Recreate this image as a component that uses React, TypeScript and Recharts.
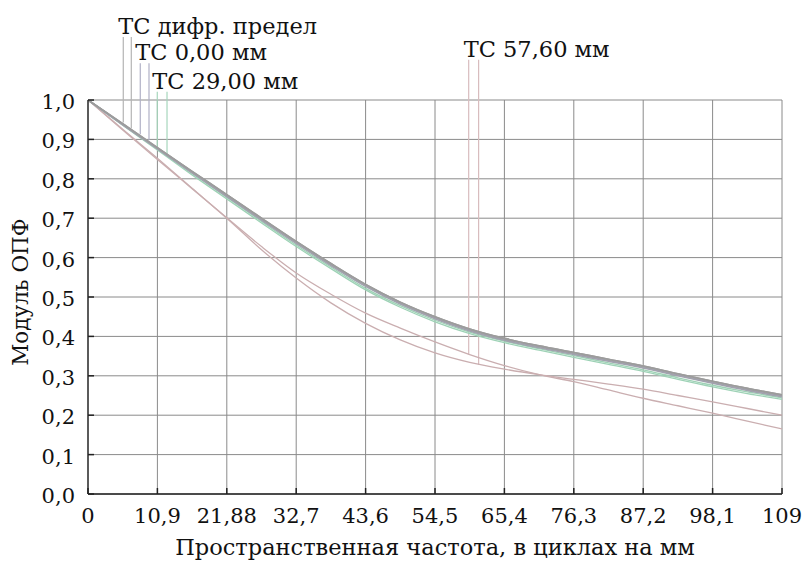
import React from 'react';
import { LineChart, Line, XAxis, YAxis, CartesianGrid, ReferenceLine } from 'recharts';

const freq = [0, 5.45, 10.9, 16.35, 21.8, 27.25, 32.7, 38.15, 43.6, 49.05, 54.5, 59.95, 65.4, 70.85, 76.3, 81.75, 87.2, 92.65, 98.1, 103.55, 109];
const diffT = [1.0, 0.94, 0.879, 0.819, 0.76, 0.7, 0.641, 0.585, 0.532, 0.487, 0.45, 0.419, 0.395, 0.376, 0.359, 0.342, 0.325, 0.305, 0.286, 0.268, 0.252];
const diffS = [1.0, 0.94, 0.879, 0.819, 0.76, 0.7, 0.641, 0.585, 0.532, 0.487, 0.45, 0.419, 0.395, 0.376, 0.359, 0.342, 0.325, 0.305, 0.286, 0.268, 0.252];
const tc0T = [1.0, 0.938, 0.877, 0.816, 0.757, 0.697, 0.638, 0.582, 0.529, 0.484, 0.447, 0.416, 0.392, 0.373, 0.356, 0.339, 0.322, 0.302, 0.283, 0.265, 0.249];
const tc0S = [1.0, 0.937, 0.876, 0.815, 0.755, 0.695, 0.636, 0.58, 0.527, 0.482, 0.445, 0.414, 0.39, 0.371, 0.354, 0.337, 0.32, 0.3, 0.281, 0.263, 0.247];
const tc29T = [1.0, 0.936, 0.873, 0.81, 0.749, 0.688, 0.628, 0.572, 0.518, 0.474, 0.437, 0.407, 0.384, 0.365, 0.347, 0.329, 0.311, 0.291, 0.272, 0.255, 0.24];
const tc29S = [1.0, 0.937, 0.876, 0.814, 0.753, 0.692, 0.632, 0.576, 0.522, 0.478, 0.441, 0.411, 0.388, 0.369, 0.351, 0.333, 0.315, 0.295, 0.276, 0.259, 0.244];
const tc57T = [1.0, 0.924, 0.849, 0.775, 0.701, 0.628, 0.561, 0.507, 0.459, 0.421, 0.386, 0.354, 0.326, 0.303, 0.285, 0.264, 0.243, 0.224, 0.205, 0.185, 0.165];
const tc57S = [1.0, 0.926, 0.852, 0.776, 0.7, 0.62, 0.548, 0.485, 0.433, 0.391, 0.358, 0.334, 0.317, 0.303, 0.291, 0.279, 0.266, 0.25, 0.234, 0.217, 0.2];

const xTicks = [0, 10.9, 21.8, 32.7, 43.6, 54.5, 65.4, 76.3, 87.2, 98.1, 109];
const xTickLabels = ['0', '10,9', '21,88', '32,7', '43,6', '54,5', '65,4', '76,3', '87,2', '98,1', '109'];
const yTicks = [0, 0.1, 0.2, 0.3, 0.4, 0.5, 0.6, 0.7, 0.8, 0.9, 1.0];
const yTickLabels = ['0,0', '0,1', '0,2', '0,3', '0,4', '0,5', '0,6', '0,7', '0,8', '0,9', '1,0'];

// leader lines: x position, top value, bottom value (on curve)
const leaderNames = ['ТС дифр. предел', '', 'ТС 0,00 мм', '', 'ТС 29,00 мм', '', 'ТС 57,60 мм', ''];
const leaderX = [5.54, 6.8, 8.21, 9.58, 10.88, 12.41, 59.79, 61.35];
const leaderTop = [1.16, 1.16, 1.093, 1.093, 1.021, 1.021, 1.102, 1.102];
const leaderBottom = [0.943, 0.928, 0.913, 0.898, 0.876, 0.86, 0.354, 0.328];
const leaderColors = ['#b4b4b4', '#b4b4b4', '#b0b0c6', '#b0b0c6', '#a6d6bc', '#a6d6bc', '#d8bcbe', '#d8bcbe'];

const data = freq.map((f, i) => ({
  f,
  diffT: diffT[i],
  diffS: diffS[i],
  tc0T: tc0T[i],
  tc0S: tc0S[i],
  tc29T: tc29T[i],
  tc29S: tc29S[i],
  tc57T: tc57T[i],
  tc57S: tc57S[i],
}));

const FONT = "'DejaVu Serif', serif";
const TXT = '#111';
const FRAME = '#222';

const BottomTick = (props: any) => {
  const { x, y, payload, index } = props;
  const i = xTicks.indexOf(payload.value);
  const label = xTickLabels[i >= 0 ? i : index];
  return (
    <g>
      <line x1={x} y1={y} x2={x} y2={y - 6} stroke={FRAME} strokeWidth={1.5} />
      <text x={x} y={y + 29} textAnchor="middle" fontFamily={FONT} fontSize={21} fill={TXT}>{label}</text>
    </g>
  );
};
const TopTick = (props: any) => {
  const { x, y } = props;
  return <line x1={x} y1={y} x2={x} y2={y + 6} stroke={FRAME} strokeWidth={1.5} />;
};
const LeftTick = (props: any) => {
  const { x, y, payload, index } = props;
  const i = yTicks.indexOf(payload.value);
  const label = yTickLabels[i >= 0 ? i : index];
  return (
    <g>
      <line x1={x} y1={y} x2={x + 6} y2={y} stroke={FRAME} strokeWidth={1.5} />
      <text x={x - 13} y={y + 9} textAnchor="end" fontFamily={FONT} fontSize={21} fill={TXT}>{label}</text>
    </g>
  );
};
const RightTick = (props: any) => {
  const { x, y } = props;
  return <line x1={x} y1={y} x2={x - 6} y2={y} stroke={FRAME} strokeWidth={1.5} />;
};

const makeLeaderLabel = (text: string) => (props: any) => {
  const vb = props.viewBox || {};
  if (!text) return null;
  return (
    <text x={vb.x - 5} y={vb.y - 3} textAnchor="start" fontFamily={FONT} fontSize={22.5} fill={TXT}>{text}</text>
  );
};

const XTitle = (props: any) => {
  const vb = props.viewBox || {};
  return (
    <text x={vb.x + vb.width / 2} y={vb.y + 61} textAnchor="middle" fontFamily={FONT} fontSize={22.5} fill={TXT}>
      Пространственная частота, в циклах на мм
    </text>
  );
};
const YTitle = (props: any) => {
  const vb = props.viewBox || {};
  const cx = 20;
  const cy = vb.y + vb.height / 2 - 5;
  return (
    <text x={cx} y={cy} transform={`rotate(-90 ${cx} ${cy})`} textAnchor="middle" fontFamily={FONT} fontSize={21.5} fill={TXT}>
      Модуль ОПФ
    </text>
  );
};

const series = [
  { key: 'tc57S', color: '#caaeb0', w: 1.3 },
  { key: 'tc57T', color: '#caaeb0', w: 1.3 },
  { key: 'tc29S', color: '#9ed2b6', w: 1.3 },
  { key: 'tc29T', color: '#9ed2b6', w: 1.3 },
  { key: 'tc0S', color: '#a2a2ae', w: 1.6 },
  { key: 'tc0T', color: '#a2a2ae', w: 1.6 },
  { key: 'diffS', color: '#9c9c9c', w: 1.6 },
  { key: 'diffT', color: '#9c9c9c', w: 1.6 },
];

export default function App() {
  return (
    <div style={{ position: 'absolute', left: 8, top: 8, width: 795, height: 553 }}>
      <style>{`svg.recharts-surface{overflow:visible} .recharts-wrapper{overflow:visible}`}</style>
      <LineChart width={795} height={553} data={data} margin={{ top: 92, right: 21, bottom: 0, left: 0 }}>
        <CartesianGrid stroke="#8a8a8a" strokeWidth={1} />
        <XAxis
          dataKey="f"
          type="number"
          domain={[0, 109]}
          ticks={xTicks}
          interval={0}
          height={67}
          tickSize={0}
          tickMargin={0}
          tickLine={false}
          axisLine={{ stroke: FRAME, strokeWidth: 1.3 }}
          tick={BottomTick}
          label={XTitle}
          allowDataOverflow
        />
        <XAxis
          xAxisId="top"
          orientation="top"
          dataKey="f"
          type="number"
          domain={[0, 109]}
          ticks={xTicks}
          interval={0}
          height={0}
          tickSize={0}
          tickMargin={0}
          tickLine={false}
          axisLine={{ stroke: FRAME, strokeWidth: 1.3 }}
          tick={TopTick}
          allowDataOverflow
        />
        <YAxis
          type="number"
          domain={[0, 1]}
          ticks={yTicks}
          interval={0}
          width={80}
          tickSize={0}
          tickMargin={0}
          tickLine={false}
          axisLine={{ stroke: FRAME, strokeWidth: 1.3 }}
          tick={LeftTick}
          label={YTitle}
          allowDataOverflow
        />
        <YAxis
          yAxisId="right"
          orientation="right"
          type="number"
          domain={[0, 1]}
          ticks={yTicks}
          interval={0}
          width={0}
          tickSize={0}
          tickMargin={0}
          tickLine={false}
          axisLine={{ stroke: FRAME, strokeWidth: 1.3 }}
          tick={RightTick}
          allowDataOverflow
        />
        {leaderX.map((lx, i) => (
          <ReferenceLine
            key={'ld' + i}
            segment={[{ x: lx, y: leaderTop[i] }, { x: lx, y: leaderBottom[i] }]}
            stroke={leaderColors[i]}
            strokeWidth={1.2}
            ifOverflow="visible"
            label={makeLeaderLabel(leaderNames[i])}
          />
        ))}
        {series.map((s) => (
          <Line
            key={s.key}
            dataKey={s.key}
            type="monotone"
            stroke={s.color}
            strokeWidth={s.w}
            dot={false}
            activeDot={false}
            isAnimationActive={false}
          />
        ))}
      </LineChart>
    </div>
  );
}
